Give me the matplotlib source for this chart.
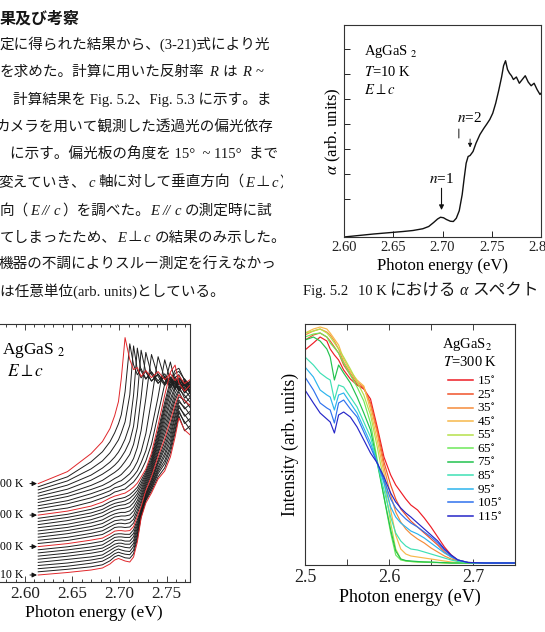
import matplotlib
matplotlib.use('Agg')
import matplotlib.pyplot as plt
from matplotlib.transforms import Bbox, TransformedBbox
from matplotlib.ticker import MultipleLocator, FixedLocator, FormatStrFormatter, NullLocator

plt.rcParams['font.family'] = ['Liberation Serif', 'Noto Sans CJK JP', 'DejaVu Sans']
plt.rcParams['mathtext.fontset'] = 'stix'

# ---------------- Fig. 5.2 : alpha spectrum at 10 K ----------------
a_energy = [2.600, 2.615, 2.630, 2.645, 2.660, 2.670, 2.680, 2.686, 2.691, 2.695, 2.698,
            2.701, 2.704, 2.708, 2.711, 2.714, 2.717, 2.720, 2.722, 2.724, 2.726, 2.728,
            2.731, 2.734, 2.738, 2.742, 2.745, 2.748, 2.751, 2.754, 2.757, 2.760, 2.762,
            2.764, 2.766, 2.768, 2.770, 2.772, 2.775, 2.778, 2.781, 2.784, 2.787, 2.790,
            2.793, 2.796, 2.799, 2.800]
a_alpha = [0.00, 0.06, 0.12, 0.17, 0.22, 0.26, 0.33, 0.42, 0.58, 0.72, 0.79,
           0.77, 0.70, 0.63, 0.62, 0.75, 1.05, 1.70, 2.35, 2.95, 3.22, 3.26,
           3.42, 3.75, 4.10, 4.35, 4.52, 4.70, 4.95, 5.35, 5.85, 6.40, 6.85,
           7.05, 6.70, 6.55, 6.45, 6.30, 6.40, 6.15, 6.30, 6.45, 6.20, 6.05,
           6.15, 5.90, 5.70, 5.75]
a_yticks = [1.52, 2.52, 3.52, 4.52, 5.52, 6.52, 7.52]

# ---------------- Fig. 5.3 : temperature dependence (10-300 K) ----------------
bl_energy = [2.614, 2.645, 2.670, 2.682, 2.690, 2.695, 2.699, 2.702, 2.706, 2.711, 2.715,
             2.719, 2.723, 2.728, 2.734, 2.741, 2.748, 2.754, 2.759, 2.763, 2.769, 2.775]
bl_temps = [10, 20, 30, 40, 50, 60, 70, 80, 90, 100, 110, 120, 130, 140, 150,
            160, 170, 180, 190, 200, 210, 220, 230, 240, 250, 260, 270, 280, 290, 300]
bl_offsets = [7.0, 10.2, 13.3, 16.5, 19.6, 22.8, 25.9, 29.1, 32.2, 35.4, 38.5, 41.7, 44.8, 48.0, 51.1,
              54.3, 57.4, 60.6, 63.7, 66.9, 70.0, 73.2, 76.3, 79.5, 82.6, 85.8, 88.9, 92.1, 95.2, 98.4]
bl_alpha = [
    [0, 2.5, 5, 7, 11, 15, 16.5, 15.5, 14, 13, 18, 33, 57, 72, 82, 96, 104, 118, 138, 157, 145, 140],
    [0, 2.5, 5, 7, 11, 15, 16.5, 15.5, 14, 13.5, 18, 33, 55, 71, 81, 95, 104, 119, 139, 156, 141, 146],
    [0, 2.5, 5.5, 7.5, 11.5, 15, 16.5, 15.5, 14.5, 14, 18.5, 32.5, 53, 69, 80, 95, 105, 120, 139, 156, 147, 139],
    [0, 2.5, 5.5, 7.5, 11.5, 15, 16.5, 15.5, 14.5, 14, 19, 32, 51, 67, 78, 94, 105, 120, 140, 155, 142, 147],
    [0, 3, 5.5, 7.5, 12, 15, 16.5, 16, 15, 14.5, 19, 32, 49, 65, 77, 93, 106, 121, 140, 155, 148, 140],
    [0, 3, 6, 8, 12, 15, 16, 16, 15, 15, 19, 31.5, 47, 63, 75, 92, 106, 122, 141, 154, 143, 148],
    [0, 3, 6, 8, 12, 15.5, 16, 16, 15, 15, 19.5, 31, 45, 61, 74, 92, 107, 123, 141, 154, 149, 141],
    [0, 3, 6, 8, 12.5, 15.5, 16, 16, 15.5, 15.5, 19.5, 30.5, 43, 59, 72, 91, 107, 124, 142, 153, 144, 149],
    [0, 3, 6.5, 8.5, 12.5, 15.5, 16, 16, 15.5, 15.5, 20, 30, 41.5, 57, 71, 90, 108, 125, 142, 153, 150, 142],
    [0, 3, 6.5, 8.5, 12.5, 15.5, 16, 16, 15.5, 16, 20, 30, 40, 56, 70, 90, 108, 126, 142, 152, 146, 141],
    [0, 3, 7, 9, 13, 16, 16.5, 16.5, 16, 16.5, 20.5, 30, 40, 55, 69, 90, 109, 127, 143, 152, 140, 146],
    [0, 3, 7, 9.5, 13.5, 16, 17, 17, 16.5, 17.5, 21, 30, 39.5, 54, 68, 89, 110, 128, 143, 151, 145, 138],
    [0, 3.5, 7.5, 10, 14, 16.5, 17, 17.5, 17, 18, 22, 30.5, 39.5, 53, 67, 89, 111, 129, 144, 151, 139, 145],
    [0, 3.5, 7.5, 10.5, 14.5, 17, 17.5, 18, 18, 19, 23, 30.5, 39, 52, 66, 89, 112, 131, 145, 151, 144, 137],
    [0, 3.5, 8, 11, 15, 17, 18, 18.5, 18.5, 20, 24, 30.5, 39, 51, 65, 89, 113, 132, 145, 151, 138, 144],
    [0, 3.5, 8, 11.5, 15.5, 17.5, 18.5, 19, 19.5, 21, 25, 31, 38.5, 50, 64, 88, 114, 134, 146, 150, 143, 136],
    [0, 4, 8.5, 12, 16, 18, 19, 19.5, 20, 22, 26, 31, 38.5, 49, 63, 88, 115, 135, 147, 150, 137, 143],
    [0, 4, 8.5, 12, 16, 18, 19, 19.5, 20.5, 23, 26.5, 31, 38, 48, 62, 88, 115, 137, 148, 150, 142, 135],
    [0, 4, 9, 12.5, 16.5, 18.5, 19.5, 20, 21, 23.5, 27, 31, 38, 47, 62, 88, 116, 138, 148, 150, 138, 132],
    [0, 4, 9, 13, 17, 19, 20, 21, 22, 25, 28, 32, 38, 46, 62, 90, 120, 143, 150, 132, 124, 130],
    [0, 4, 10, 14, 17, 20, 21, 22, 23, 27, 30, 35, 41, 51, 68, 98, 128, 150, 130, 121, 128, 118],
    [0, 5, 11, 15, 18, 21, 22, 23, 25, 29, 33, 38, 46, 58, 80, 112, 149, 128, 119, 126, 116, 123],
    [0, 5, 12, 16, 19, 22, 24, 25, 28, 32, 37, 44, 54, 72, 106, 149, 127, 118, 125, 115, 122, 113],
    [0, 6, 13, 17, 21, 24, 26, 28, 32, 37, 44, 55, 72, 104, 148, 126, 117, 124, 114, 121, 112, 118],
    [0, 6, 14, 19, 24, 27, 30, 33, 38, 45, 55, 72, 102, 147, 125, 116, 123, 113, 120, 110, 117, 109],
    [0, 7, 16, 22, 27, 31, 35, 39, 45, 55, 70, 100, 146, 124, 115, 122, 112, 119, 109, 116, 107, 113],
    [0, 8, 18, 25, 31, 36, 41, 46, 54, 68, 98, 145, 122, 114, 121, 110, 117, 108, 114, 106, 112, 105],
    [0, 9, 21, 29, 37, 44, 50, 57, 68, 95, 144, 120, 112, 119, 109, 116, 107, 113, 105, 111, 104, 109],
    [0, 10, 25, 35, 45, 54, 63, 72, 95, 143, 122, 112, 118, 108, 115, 106, 113, 104, 110, 102, 108, 101],
    [0, 12, 30, 42, 55, 68, 82, 105, 146, 124, 114, 116, 107, 113, 106, 112, 104, 110, 103, 108, 100, 104],
]
bl_red_temps = [10, 100, 200, 300]

# ---------------- polarization dependence at 300 K ----------------
br_energy = [2.500, 2.510, 2.518, 2.526, 2.530, 2.535, 2.540, 2.546, 2.554, 2.562, 2.570, 2.578,
             2.586, 2.594, 2.602, 2.608, 2.614, 2.620, 2.626, 2.634, 2.642, 2.650, 2.658, 2.666,
             2.674, 2.682, 2.694, 2.714, 2.750]
br_angles = [15, 25, 35, 45, 55, 65, 75, 85, 95, 105, 115]
br_intensity = [
    [215, 222, 228, 224, 216, 210, 205, 195, 186, 180, 176, 166, 138, 108, 90, 80, 73, 66, 60, 55, 47, 38, 28, 18, 10, 5, 2.5, 2, 2],
    [225, 230, 232, 228, 224, 218, 212, 200, 190, 181, 177, 162, 135, 103, 80, 66, 56, 50, 44, 38, 32, 26, 20, 13, 8, 4, 2.5, 2, 2],
    [230, 234, 236, 233, 230, 224, 216, 203, 192, 183, 178, 160, 132, 98, 70, 53, 43, 36, 31, 26, 22, 17, 13, 9, 6, 4, 2.5, 2, 2],
    [232, 236, 238, 236, 232, 226, 220, 206, 194, 185, 179, 155, 125, 92, 55, 30, 16, 11, 9, 8, 7, 6, 5, 4, 3, 2.5, 2, 2, 2],
    [232, 234, 236, 232, 228, 222, 216, 208, 196, 183, 170, 150, 118, 84, 42, 16, 6, 4, 3.5, 3, 3, 2.5, 2.5, 2, 2, 2, 2, 2, 2],
    [228, 231, 232, 228, 222, 217, 212, 202, 190, 178, 164, 142, 105, 68, 32, 10, 5, 4, 3.5, 3, 3, 2.5, 2.5, 2, 2, 2, 2, 2, 2],
    [225, 228, 224, 216, 208, 185, 200, 192, 182, 168, 152, 135, 102, 68, 35, 14, 6, 4.5, 4, 3.5, 3, 3, 2.5, 2.5, 2, 2, 2, 2, 2],
    [208, 200, 192, 187, 185, 165, 180, 178, 168, 158, 143, 128, 102, 75, 48, 32, 24, 19, 16, 15, 13, 11, 9, 7, 5, 3.5, 2.5, 2, 2],
    [198, 188, 175, 170, 168, 155, 170, 172, 162, 152, 137, 122, 102, 82, 58, 48, 42, 38, 34, 31, 27, 22, 17, 12, 8, 5, 2.5, 2, 2],
    [188, 175, 162, 157, 155, 142, 162, 165, 156, 148, 133, 118, 102, 85, 66, 57, 51, 46, 42, 38, 33, 28, 22, 15, 9, 5, 2.5, 2, 2],
    [175, 162, 152, 146, 143, 132, 150, 153, 148, 138, 125, 112, 102, 88, 72, 63, 57, 52, 48, 42, 36, 30, 24, 16, 10, 5, 2.5, 2, 2],
]
br_colors = ['#ee1c25', '#f0522a', '#f58c3a', '#f7b84a', '#b5e04a', '#6ee85a',
             '#22c24e', '#3ee0b4', '#2cb4ee', '#2f72ee', '#2626c8']

W, H = 545, 632
fig = plt.figure(figsize=(W / 100, H / 100), dpi=100)
fig.patch.set_facecolor('white')


def ax_px(left, top, right, bottom):
    return fig.add_axes([left / W, 1 - bottom / H, (right - left) / W, (bottom - top) / H])


def style_spines(ax):
    for s in ax.spines.values():
        s.set_linewidth(0.8)
        s.set_color('#333333')


# ---------- body text ----------
renderer = fig.canvas.get_renderer()
clip = TransformedBbox(Bbox([[0, 0], [283 / W, 1]]), fig.transFigure)
TXT = '#161616'


def text_line(x, y, segs, size=10.5, clipped=True):
    for s, st in segs:
        if st == 'gap':
            x += s
            continue
        kw = dict(fontsize=size, va='baseline', ha='left', color=TXT)
        if st == 'i':
            kw.update(family='Liberation Serif', style='italic')
        elif st == 'b':
            kw.update(family=['Noto Sans CJK JP'], weight='bold')
        elif st == 'cjk':
            kw.update(family=['Noto Sans CJK JP'])
        t = fig.text(x / W, 1 - y / H, s, **kw)
        if clipped:
            t.set_clip_box(clip)
            t.set_clip_on(True)
        bb = t.get_window_extent(renderer)
        x = bb.x1 + 0.5


text_line(0, 23.5, [("果及び考察", 'b')], size=11.5)
text_line(0, 49, [("定に得られた結果から、(3-21)式により光", 'n')])
text_line(0, 76, [("を求めた。計算に用いた反射率", 'n'), (4, 'gap'), ("R", 'i'), (4, 'gap'), ("は", 'n'),
                  (4, 'gap'), ("R", 'i'), (4, 'gap'), ("~", 'n')])
text_line(13, 104, [("計算結果を Fig. 5.2、Fig. 5.3 に示す。ま", 'n')])
text_line(-5, 132, [("カメラを用いて観測した透過光の偏光依存", 'n')])
text_line(10, 159, [("に示す。偏光板の角度を 15°  ~ 115°  まで", 'n')])
text_line(-2, 187, [("変えていき、", 'n'), (2, 'gap'), ("c", 'i'), (3, 'gap'), ("軸に対して垂直方向（", 'n'),
                    ("E", 'i'), (1, 'gap'), ("⊥", 'n'), (1, 'gap'), ("c", 'i'), (1, 'gap'), ("）", 'n')])
text_line(0, 215, [("向（", 'n'), ("E", 'i'), (3, 'gap'), ("//", 'i'), (3, 'gap'), ("c", 'i'), (1, 'gap'),
                   ("）を調べた。", 'n'), ("E", 'i'), (3, 'gap'), ("//", 'i'), (3, 'gap'), ("c", 'i'),
                   (4, 'gap'), ("の測定時に試", 'n')])
text_line(0, 242, [("てしまったため、", 'n'), ("E", 'i'), (1, 'gap'), ("⊥", 'n'), (1, 'gap'), ("c", 'i'),
                   (4, 'gap'), ("の結果のみ示した。", 'n')])
text_line(-1.6, 269, [("機器の不調によりスルー測定を行えなかっ", 'n')])
text_line(0, 296, [("は任意単位(arb. units)としている。", 'n')])

# caption of Fig. 5.2
text_line(303, 295, [("Fig. 5.2", 'n')], size=10.5, clipped=False)
text_line(358, 295, [("10 K", 'n')], size=10.5, clipped=False)
text_line(390, 295, [("における", 'cjk')], size=12, clipped=False)
text_line(460, 295, [("α", 'i')], size=11.5, clipped=False)
text_line(472, 295, [("スペクト", 'cjk')], size=12, clipped=False)

# ---------- Fig. 5.2 ----------
axA = ax_px(344, 25, 541, 237)
style_spines(axA)
axA.plot(a_energy, a_alpha, color='#111111', lw=1.0)
axA.set_xlim(2.60, 2.80)
axA.set_ylim(0, 8.48)
axA.xaxis.set_major_locator(MultipleLocator(0.05))
axA.xaxis.set_major_formatter(FormatStrFormatter('%.2f'))
axA.yaxis.set_major_locator(FixedLocator(a_yticks))
axA.tick_params(axis='both', direction='in', length=4, width=0.7, labelsize=10.5, pad=3, colors='#222222')
axA.tick_params(axis='y', labelleft=False)
axA.set_xlabel("Photon energy (eV)", fontsize=12, labelpad=3)
axA.set_ylabel(r"$\alpha$ (arb. units)", fontsize=12, labelpad=1)
axA.text(0.1015, 0.873, "AgGaS $_2$", transform=axA.transAxes, fontsize=10.5, va='center', ha='left')
axA.text(0.1015, 0.778, r"$T$=10 K", transform=axA.transAxes, fontsize=10.5, va='center', ha='left')
axA.text(0.1015, 0.693, r"$E\perp c$", transform=axA.transAxes, fontsize=10.5, va='center', ha='left')
axA.text(2.699, 2.32, r"$n$=1", fontsize=11, ha='center', va='center')
axA.annotate('', xy=(2.699, 1.08), xytext=(2.699, 1.95),
             arrowprops=dict(arrowstyle='-|>', color='#111111', lw=0.8, mutation_scale=7, shrinkA=0, shrinkB=0))
axA.text(2.727, 4.75, r"$n$=2", fontsize=11, ha='center', va='center')
axA.annotate('', xy=(2.7166, 3.96), xytext=(2.7166, 4.32),
             arrowprops=dict(arrowstyle='-', color='#111111', lw=0.7, shrinkA=0, shrinkB=0))
axA.annotate('', xy=(2.728, 3.58), xytext=(2.728, 3.92),
             arrowprops=dict(arrowstyle='-|>', color='#111111', lw=0.6, mutation_scale=6, shrinkA=0, shrinkB=0))

# ---------- temperature series ----------
axB = ax_px(-3.32, 324, 190.2, 582)
style_spines(axB)
for T, off, rel in zip(bl_temps, bl_offsets, bl_alpha):
    col = '#e0262a' if T in bl_red_temps else '#1e1e1e'
    axB.plot(bl_energy, [off + v for v in rel], color=col, lw=0.7, zorder=3 if T in bl_red_temps else 2)
for T in bl_red_temps:
    off = bl_offsets[bl_temps.index(T)]
    axB.annotate(f"{T} K", xy=(2.6127, off), xytext=(2.5979, off), ha='right', va='center', fontsize=8.5,
                 arrowprops=dict(arrowstyle='-|>', color='#111111', lw=0.7, mutation_scale=7,
                                 shrinkA=3, shrinkB=0))
axB.set_xlim(2.570, 2.775)
axB.set_ylim(0, 258)
axB.xaxis.set_major_locator(MultipleLocator(0.05))
axB.xaxis.set_minor_locator(MultipleLocator(0.01))
axB.xaxis.set_major_formatter(FormatStrFormatter('%.2f'))
axB.yaxis.set_major_locator(NullLocator())
axB.tick_params(axis='x', which='both', direction='in', top=True, width=0.6, colors='#222222')
axB.tick_params(axis='x', which='major', length=4, labelsize=12.3, pad=3)
axB.tick_params(axis='x', which='minor', length=2.5)
axB.set_xlabel("Photon energy (eV)", fontsize=12.6, labelpad=2)
axB.text(0.0274, 0.899, "AgGaS $_2$", transform=axB.transAxes, fontsize=12.5, va='center', ha='left')
axB.text(0.0532, 0.814, r"$E\perp c$", transform=axB.transAxes, fontsize=12.5, va='center', ha='left')

# ---------- polarization series ----------
axC = ax_px(305, 324, 515, 565)
style_spines(axC)
handles = []
for ang, vals, col in zip(br_angles, br_intensity, br_colors):
    ln, = axC.plot(br_energy, vals, color=col, lw=0.85, label=f"{ang}" + r"$^{\circ}$")
    handles.append(ln)
axC.set_xlim(2.50, 2.75)
axC.set_ylim(0, 241)
axC.xaxis.set_major_locator(MultipleLocator(0.1))
axC.xaxis.set_minor_locator(MultipleLocator(0.05))
axC.xaxis.set_major_formatter(FormatStrFormatter('%.1f'))
axC.yaxis.set_major_locator(NullLocator())
axC.tick_params(axis='x', which='both', direction='in', top=True, length=4, width=0.6, colors='#222222')
axC.tick_params(axis='x', which='major', labelsize=13, pad=3)
axC.set_xlabel("Photon energy (eV)", fontsize=13, labelpad=2)
axC.set_ylabel("Intensity (arb. units)", fontsize=12.7, labelpad=4)
axC.text(0.770, 0.913, "AgGaS$_2$", transform=axC.transAxes, fontsize=10.5, va='center', ha='center')
axC.text(0.786, 0.842, r"$T$=300 K", transform=axC.transAxes, fontsize=10.5, va='center', ha='center')
leg = axC.legend(handles=handles, loc='upper left', bbox_to_anchor=(0.681, 0.787), frameon=False,
                 fontsize=9.5, handlelength=1.9, handletextpad=0.3, labelspacing=0.06,
                 borderpad=0, borderaxespad=0)
for lh in leg.get_lines():
    lh.set_linewidth(1.1)

fig.savefig('out.png', dpi=100, facecolor='white')
